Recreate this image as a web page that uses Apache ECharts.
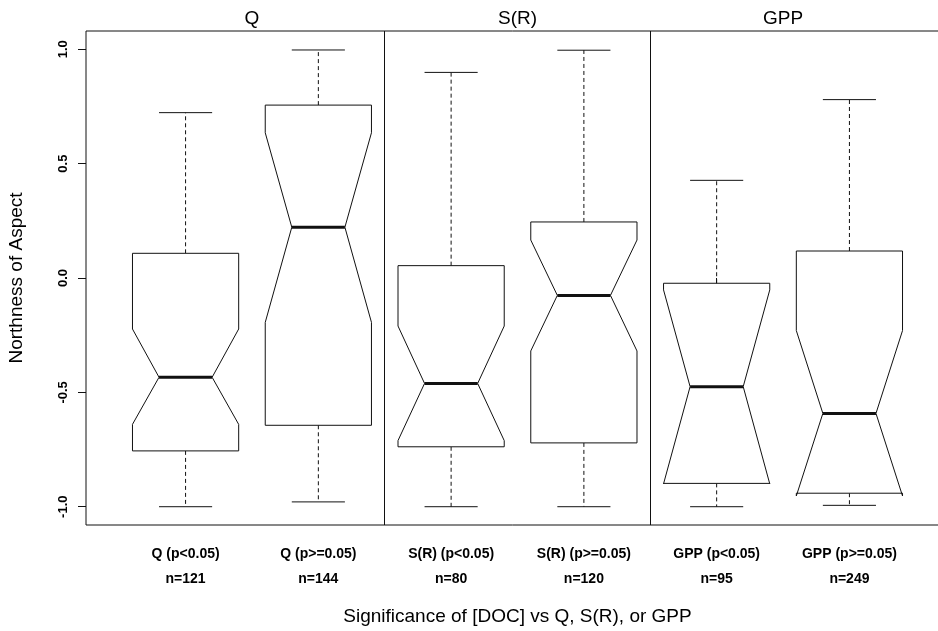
<!DOCTYPE html>
<html>
<head>
<meta charset="utf-8">
<script src="https://cdn.jsdelivr.net/npm/echarts@6/dist/echarts.min.js"></script>
<style>
html,body{margin:0;padding:0;background:#fff;}
#chart{width:938px;height:631px;}
</style>
</head>
<body>
<div id="chart"></div>
<script>
// ---- data ----
const positions   = [1, 2, 3, 4, 5, 6];
const categories  = ['Q (p<0.05)', 'Q (p>=0.05)', 'S(R) (p<0.05)', 'S(R) (p>=0.05)', 'GPP (p<0.05)', 'GPP (p>=0.05)'];
const counts      = ['n=121', 'n=144', 'n=80', 'n=120', 'n=95', 'n=249'];
const lowWhisker  = [-1.000, -0.979, -1.000, -1.000, -1.000, -0.994];
const lowerHinge  = [-0.756, -0.644, -0.738, -0.721, -0.898, -0.941];
const notchLower  = [-0.640, -0.194, -0.711, -0.319, -0.900, -0.953];
const medians     = [-0.434,  0.222, -0.461, -0.076, -0.475, -0.592];
const notchUpper  = [-0.223,  0.635, -0.210,  0.166, -0.052, -0.230];
const upperHinge  = [ 0.108,  0.756,  0.054,  0.245, -0.023,  0.118];
const highWhisker = [ 0.723,  0.997,  0.899,  0.996,  0.427,  0.780];
const panelTitles  = ['Q', 'S(R)', 'GPP'];
const panelCenters = [1.5, 3.5, 5.5];
const panelDividers = [2.5, 4.5];
const yTicks = [-1, -0.5, 0, 0.5, 1];

const boxData = positions.map((p, i) => [p, lowWhisker[i], lowerHinge[i], notchLower[i], medians[i], notchUpper[i], upperHinge[i], highWhisker[i]]);

const HALF = 0.4, CAP = 0.2, NOTCH = 0.5;
const INK = '#111';

function renderBox(params, api) {
  const x = api.value(0);
  const lo = api.value(1), q1 = api.value(2), nl = api.value(3), md = api.value(4),
        nh = api.value(5), q3 = api.value(6), hi = api.value(7);
  const c = (a, b) => api.coord([a, b]);
  const poly = [
    c(x - HALF, q1), c(x + HALF, q1), c(x + HALF, nl), c(x + HALF * NOTCH, md),
    c(x + HALF, nh), c(x + HALF, q3), c(x - HALF, q3), c(x - HALF, nh),
    c(x - HALF * NOTCH, md), c(x - HALF, nl)
  ];
  const line = (p1, p2, w, dash) => ({
    type: 'line',
    shape: { x1: p1[0], y1: p1[1], x2: p2[0], y2: p2[1] },
    style: { stroke: INK, lineWidth: w, lineDash: dash || null }
  });
  return {
    type: 'group',
    children: [
      line(c(x, q3), c(x, hi), 1, [4, 3]),
      line(c(x, q1), c(x, lo), 1, [4, 3]),
      line(c(x - CAP, hi), c(x + CAP, hi), 1),
      line(c(x - CAP, lo), c(x + CAP, lo), 1),
      { type: 'polygon', shape: { points: poly }, style: { fill: '#fff', stroke: INK, lineWidth: 1 } },
      line(c(x - HALF * NOTCH, md), c(x + HALF * NOTCH, md), 3)
    ]
  };
}

const chart = echarts.init(document.getElementById('chart'), null, { renderer: 'canvas' });
const fontFam = 'Liberation Sans, Arial, sans-serif';

chart.setOption({
  animation: false,
  backgroundColor: '#fff',
  grid: {
    left: 86, top: 31, right: -11, bottom: 106,
    show: true, borderColor: INK, borderWidth: 1, backgroundColor: 'transparent',
    containLabel: false, outerBoundsMode: 'none'
  },
  xAxis: [
    {
      type: 'value', min: 0.25, max: 6.75, position: 'bottom',
      splitLine: { show: false },
      axisLine: { show: false },
      axisTick: { show: true, length: 10, customValues: positions, lineStyle: { color: INK } },
      axisLabel: {
        customValues: positions, margin: 17, color: '#000',
        fontFamily: fontFam, fontSize: 14, fontWeight: 'bold', lineHeight: 25,
        formatter: v => {
          const i = positions.findIndex(p => Math.abs(p - v) < 1e-6);
          return i >= 0 ? categories[i] + '\n' + counts[i] : '';
        }
      },
      name: 'Significance of [DOC] vs Q, S(R), or GPP',
      nameLocation: 'middle', nameGap: 82,
      nameTextStyle: { fontFamily: fontFam, fontSize: 19, color: '#000' }
    },
    {
      type: 'value', min: 0.25, max: 6.75, position: 'top',
      splitLine: { show: false }, axisLine: { show: false }, axisTick: { show: false },
      axisLabel: {
        customValues: panelCenters, margin: 3, color: '#000',
        fontFamily: fontFam, fontSize: 19,
        formatter: v => {
          const i = panelCenters.findIndex(p => Math.abs(p - v) < 1e-6);
          return i >= 0 ? panelTitles[i] : '';
        }
      }
    }
  ],
  yAxis: {
    type: 'value', min: -1.08, max: 1.08,
    splitLine: { show: false },
    axisLine: { show: false },
    axisTick: { show: true, length: 8, customValues: yTicks, lineStyle: { color: INK } },
    axisLabel: {
      customValues: yTicks, rotate: 90, margin: 16, color: '#000',
      fontFamily: fontFam, fontSize: 13, fontWeight: 'bold',
      formatter: v => v.toFixed(1)
    },
    name: 'Northness of Aspect', nameLocation: 'middle', nameGap: 60,
    nameTextStyle: { fontFamily: fontFam, fontSize: 19, color: '#000' }
  },
  series: [
    {
      type: 'custom',
      renderItem: renderBox,
      data: boxData,
      encode: { x: 0, y: [1, 2, 3, 4, 5, 6, 7] },
      clip: false,
      markLine: {
        silent: true, symbol: 'none', animation: false,
        label: { show: false },
        lineStyle: { color: INK, type: 'solid', width: 1 },
        data: panelDividers.map(v => ({ xAxis: v }))
      }
    }
  ]
});
</script>
</body>
</html>
